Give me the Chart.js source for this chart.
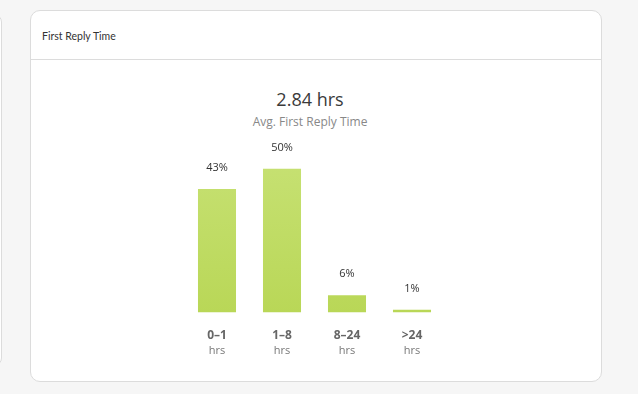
<!DOCTYPE html>
<html>
<head>
<meta charset="utf-8">
<script src="https://cdn.jsdelivr.net/npm/chart.js@4.4.1/dist/chart.umd.min.js"></script>
<style>
  html, body { margin: 0; padding: 0; width: 638px; height: 394px; background: #f6f6f6; overflow: hidden; font-family: "Open Sans", sans-serif; }
  .side { position: absolute; left: -20px; top: 14px; width: 20px; height: 350px; border: 1px solid #dcdcdc; border-radius: 8px; background: #fff; }
  .card { position: absolute; left: 30px; top: 10px; width: 570px; height: 370px; border: 1px solid #dcdcdc; border-radius: 10px; background: #fff; }
  .head { height: 49px; border-bottom: 1px solid #dcdcdc; box-sizing: border-box; }
  .head span { position: absolute; left: 11px; top: 19px; font: 10.5px Lato, sans-serif; color: #333; }
  .big { position: absolute; left: -9px; width: 100%; top: 87px; text-align: center; font-size: 18px; color: #3a3a3a; }
  .sub { position: absolute; left: -9px; width: 100%; top: 113px; text-align: center; font-size: 12px; color: #888; }
  #chart { position: absolute; left: 0; top: 0; }
</style>
</head>
<body>
<div class="side"></div>
<div class="card">
  <div class="head"><span>First Reply Time</span></div>
</div>
<div class="big">2.84 hrs</div>
<div class="sub">Avg. First Reply Time</div>
<canvas id="chart" width="638" height="394"></canvas>
<script>
// First reply time buckets
const buckets = ['0–1', '1–8', '8–24', '>24'];
const units = ['hrs', 'hrs', 'hrs', 'hrs'];
const shares = [43, 50, 6, 1];

// Print the percent above each bar
const valueLabels = {
    id: 'valueLabels',
    afterDatasetsDraw(chart) {
        const ctx = chart.ctx;
        const meta = chart.getDatasetMeta(0);
        ctx.save();
        ctx.font = '11px "Open Sans"';
        ctx.fillStyle = '#333';
        ctx.textAlign = 'center';
        ctx.textBaseline = 'middle';
        meta.data.forEach((bar, i) => {
            ctx.fillText(shares[i] + '%', bar.x, bar.y - 21);
        });
        ctx.restore();
    }
};

function barFill(context) {
    const area = context.chart.chartArea;
    if (!area) return '#c0dc64';
    const g = context.chart.ctx.createLinearGradient(0, area.top, 0, area.bottom);
    g.addColorStop(0, '#c8e276');
    g.addColorStop(1, '#b9d757');
    return g;
}

new Chart(document.getElementById('chart'), {
    type: 'bar',
    data: {
        // empty first line leaves the gap under the bars
        labels: buckets.map(b => ['', b]),
        datasets: [{
            data: shares,
            backgroundColor: barFill,
            borderWidth: 0,
            barPercentage: 0.585,
            categoryPercentage: 1
        }]
    },
    options: {
        responsive: false,
        animation: false,
        layout: { padding: { left: 184.5, right: 193.5, top: 140, bottom: 37 } },
        plugins: { legend: { display: false }, tooltip: { enabled: false } },
        scales: {
            y: { display: false, min: 0, max: 60 },
            x: {
                weight: 1,
                grid: { display: false, drawTicks: false },
                border: { display: false },
                ticks: { color: '#666', font: { family: 'Open Sans', size: 12, weight: 'bold', lineHeight: 1.3 }, padding: 0 }
            },
            x2: {
                type: 'category',
                labels: units,
                position: 'bottom',
                weight: 2,
                grid: { display: false, drawTicks: false },
                border: { display: false },
                ticks: { color: '#777', font: { family: 'Open Sans', size: 11 }, padding: 0 }
            }
        }
    },
    plugins: [valueLabels]
});
</script>
</body>
</html>
